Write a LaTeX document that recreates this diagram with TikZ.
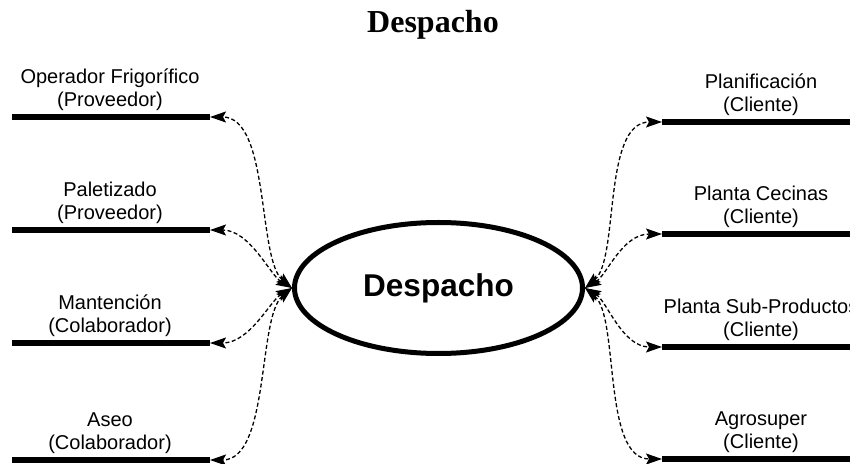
\documentclass[tikz,border=0pt]{standalone}
\usepackage{fontspec}
\setmainfont{Liberation Serif}
\setsansfont{Liberation Sans}
\usetikzlibrary{arrows.meta, shapes.geometric}

\begin{document}
\begin{tikzpicture}[x=1pt, y=1pt,
  bar/.style={line width=6.5pt},
  lbl/.style={font=\sffamily\fontsize{20}{23.5}\selectfont, align=center, anchor=south, inner sep=0pt},
  link/.style={dash pattern=on 4pt off 2.5pt, line width=1.3pt,
    {Stealth[length=16pt,width=11pt,inset=3pt]}-{Stealth[length=16pt,width=11pt,inset=3pt]}}
]
  \useasboundingbox (0,0) rectangle (850,463);

  % Title
  \node[font=\rmfamily\bfseries\fontsize{32}{38}\selectfont, anchor=base] (title) at (433,430) {Despacho};

  % Central process
  \node[ellipse, draw, line width=5pt, minimum width=288pt, minimum height=131pt, inner sep=0pt,
    font=\sffamily\bfseries\fontsize{31.5}{38}\selectfont] (desp) at (438.5,175) {Despacho};

  % Left side (suppliers and collaborators)
  \coordinate (opA) at (12,346);  \coordinate (opB) at (210,346);
  \draw[bar] (opA) -- (opB);
  \node[lbl] (opLbl) at (110,352) {Operador Frigorífico\\(Proveedor)};

  \coordinate (paA) at (12,233);  \coordinate (paB) at (210,233);
  \draw[bar] (paA) -- (paB);
  \node[lbl] (paLbl) at (110,239) {Paletizado\\(Proveedor)};

  \coordinate (maA) at (12,120);  \coordinate (maB) at (210,120);
  \draw[bar] (maA) -- (maB);
  \node[lbl] (maLbl) at (110,126) {Mantención\\(Colaborador)};

  \coordinate (asA) at (12,3);  \coordinate (asB) at (210,3);
  \draw[bar] (asA) -- (asB);
  \node[lbl] (asLbl) at (110,9) {Aseo\\(Colaborador)};

  % Right side (clients)
  \coordinate (plA) at (662,341);  \coordinate (plB) at (852,341);
  \draw[bar] (plA) -- (plB);
  \node[lbl] (plLbl) at (761,347) {Planificación\\(Cliente)};

  \coordinate (ceA) at (662,229);  \coordinate (ceB) at (852,229);
  \draw[bar] (ceA) -- (ceB);
  \node[lbl] (ceLbl) at (761,235) {Planta Cecinas\\(Cliente)};

  \coordinate (spA) at (662,116);  \coordinate (spB) at (852,116);
  \draw[bar] (spA) -- (spB);
  \node[lbl] (spLbl) at (761,122) {Planta Sub-Productos\\(Cliente)};

  \coordinate (agA) at (662,4);  \coordinate (agB) at (852,4);
  \draw[bar] (agA) -- (agB);
  \node[lbl] (agLbl) at (761,10) {Agrosuper\\(Cliente)};

  % Links
  \draw[link] (desp.west) to[out=140, in=0, out distance=45pt, in distance=60pt] (opB);
  \draw[link] (desp.west) to[out=150, in=0, out distance=25pt, in distance=40pt] (paB);
  \draw[link] (desp.west) to[out=-150, in=0, out distance=25pt, in distance=40pt] (maB);
  \draw[link] (desp.west) to[out=-140, in=0, out distance=45pt, in distance=60pt] (asB);

  \draw[link] (desp.east) to[out=40, in=180, out distance=45pt, in distance=60pt] (plA);
  \draw[link] (desp.east) to[out=30, in=180, out distance=25pt, in distance=40pt] (ceA);
  \draw[link] (desp.east) to[out=-30, in=180, out distance=25pt, in distance=40pt] (spA);
  \draw[link] (desp.east) to[out=-40, in=180, out distance=45pt, in distance=60pt] (agA);
\end{tikzpicture}
\end{document}
